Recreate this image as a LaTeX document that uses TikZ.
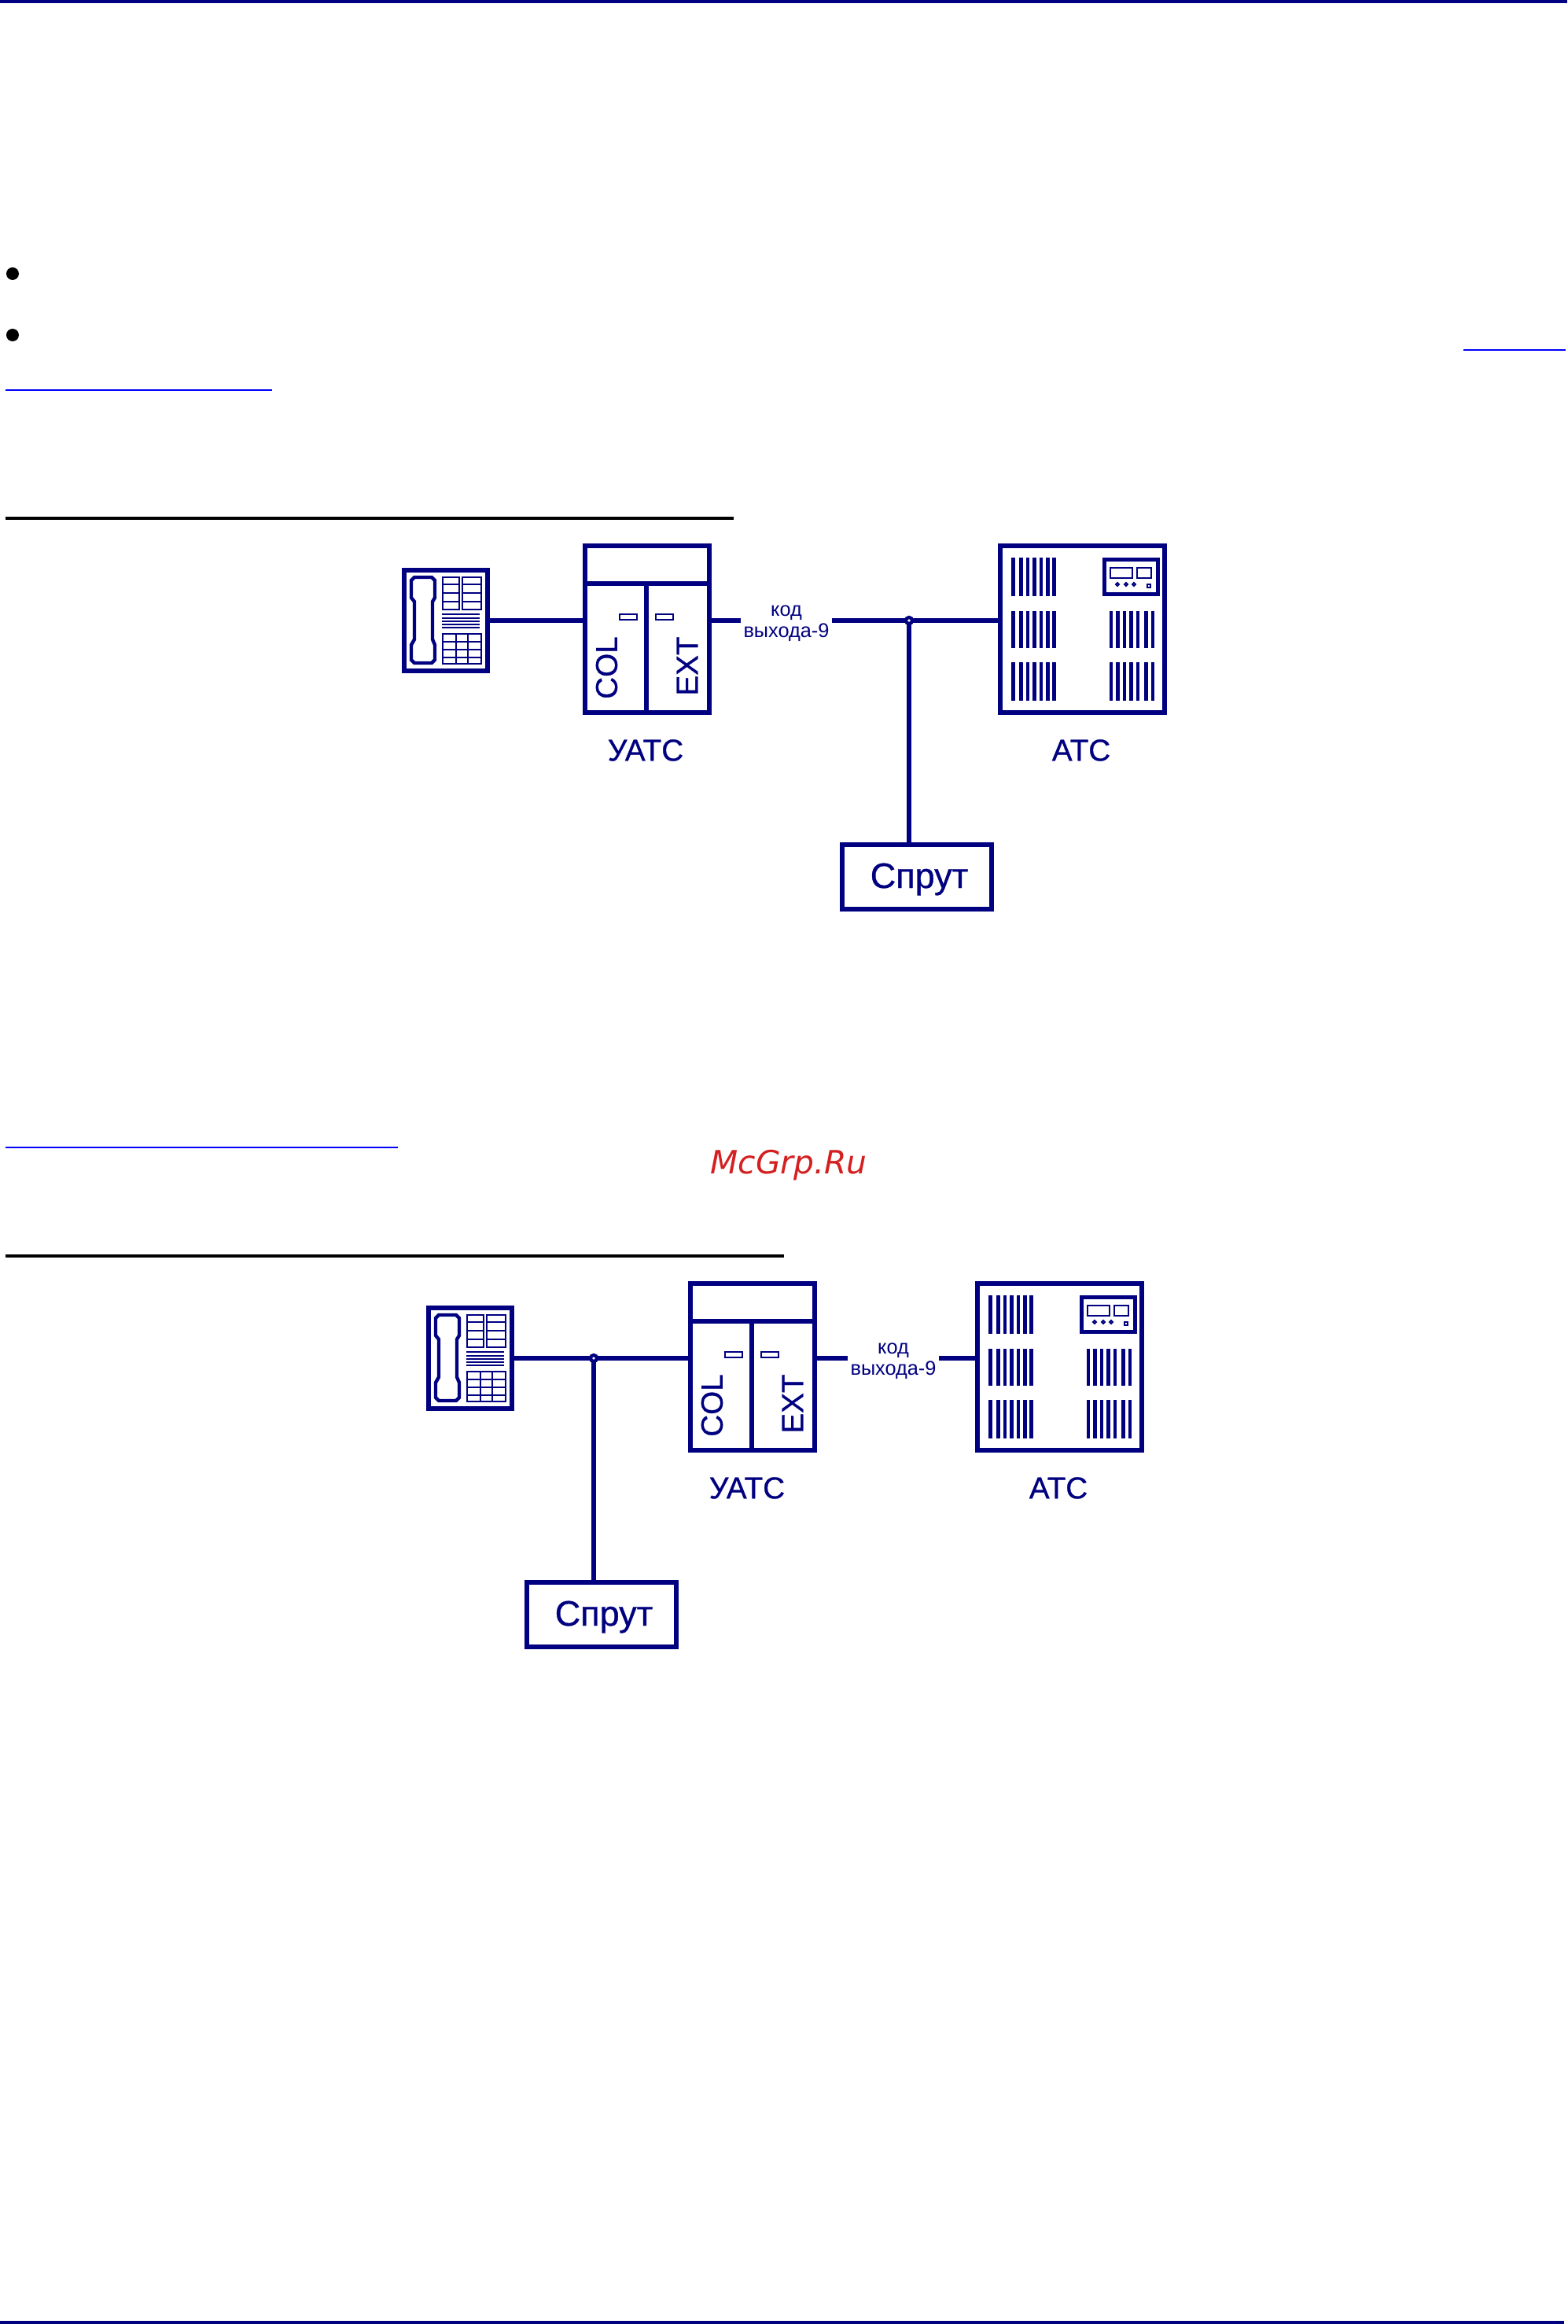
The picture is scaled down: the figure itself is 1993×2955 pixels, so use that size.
\documentclass[tikz,border=0pt]{standalone}
\usepackage{fontspec}
\setmainfont[BoldFont={Liberation Sans},BoldFeatures={FakeBold=0.7}]{Liberation Sans}
\newfontfamily\wmfont{DejaVu Sans}
\definecolor{navyline}{RGB}{0,0,128}
\definecolor{linkblue}{RGB}{0,0,255}
\definecolor{wmred}{RGB}{212,32,32}
\tikzset{
	wire/.style={draw=navyline, line width=1.7pt},
	barline/.style={draw=navyline, line width=1.4pt},
	thinline/.style={draw=navyline, line width=0.55pt},
	box/.style={wire, rectangle, inner sep=0pt, outer sep=0pt},
	joint/.style={circle, draw=navyline, fill=white, line width=1.2pt, inner sep=0pt, outer sep=0pt, minimum size=0.08cm},
	bigtext/.style={text=navyline, font=\bfseries\fontsize{11}{12}\selectfont},
	smalltext/.style={text=navyline, align=center, inner sep=0pt, minimum width=1.16cm, font=\fontsize{7.2}{7.7}\selectfont},
	linkrule/.style={draw=linkblue, line width=0.57pt},
	blackrule/.style={draw=black, line width=1.1pt},
	pics/phone/.style={code={
		\node [box, minimum width=1.06cm, minimum height=1.27cm] (-box) at (0, 0) {};
		\draw [wire, line width=1.25pt] (-40, -55) -- (-18, -55) -- (-14, -51) -- (-14, -29) -- (-17, -24) -- (-17, 24)
			-- (-14, 31) -- (-14, 50) -- (-18, 54) -- (-40, 54) -- (-44, 50) -- (-44, 31) -- (-40, 24) -- (-40, -24)
			-- (-44, -29) -- (-44, -51) -- cycle;
		% upper keys
		\draw [thinline] (-4, -55) rectangle (17, -14);
		\draw [thinline] (21, -55) rectangle (45, -14);
		\foreach \rowy in {-46, -35, -24}
			\draw [thinline] (-4, \rowy) -- (17, \rowy) (21, \rowy) -- (45, \rowy);
		\foreach \rowy in {-8, -3, 1, 5, 9}
			\draw [thinline] (-5, \rowy) -- (43, \rowy);
		% lower keys
		\draw [thinline] (-4, 17) rectangle (45, 55);
		\foreach \rowy in {27, 37, 47}
			\draw [thinline] (-4, \rowy) -- (45, \rowy);
		\draw [thinline] (13, 17) -- (13, 55);
		\draw [thinline] (28, 17) -- (28, 55);
	}},
	pics/uats/.style={code={
		\node [box, minimum width=1.58cm, minimum height=2.11cm] (-box) at (0, 0) {};
		\draw [wire] (-79, -58) -- (79, -58);
		\draw [wire] (-1, -58) -- (-1, 105.5);
		\draw [thinline] (-35, -19) rectangle (-13, -12);
		\draw [thinline] (11, -19) rectangle (33, -12);
		\node [bigtext, rotate=90] (-col) at (-51.5, 49) {COL};
		\node [bigtext, rotate=90] (-ext) at (51, 47) {EXT};
	}},
	pics/ats/.style={code={
		\node [box, minimum width=2.09cm, minimum height=2.11cm] (-box) at (0, 0) {};
		\foreach \barx in {-88, -78, -69.5, -61, -52.5, -44, -36} {
			\draw [barline] (\barx, -91) -- (\barx, -42);
			\draw [barline] (\barx, -23) -- (\barx, 24);
			\draw [barline] (\barx, 42) -- (\barx, 91);
		}
		\foreach \barx in {36.5, 45, 53.5, 62, 70.5, 81, 89.5} {
			\draw [barline] (\barx, -23) -- (\barx, 24);
			\draw [barline] (\barx, 42) -- (\barx, 91);
		}
		% panel
		\node [box, line width=1.4pt, minimum width=0.68cm, minimum height=0.44cm] (-panel) at (62, -66.5) {};
		\draw [thinline] (35.5, -78) rectangle (63.5, -65);
		\draw [thinline] (69.5, -78) rectangle (87.5, -65);
		\foreach \knobx in {44.5, 55.5, 65.5}
			\draw [thinline] (\knobx, -59) -- (\knobx + 2, -57) -- (\knobx, -55) -- (\knobx - 2, -57) -- cycle;
		\draw [thinline, line width=0.7pt] (82.5, -57) rectangle (86.5, -53);
	}},
}

\begin{document}
\begin{tikzpicture}[x=0.01cm, y=-0.01cm]

	\useasboundingbox (0, 0) rectangle (1993, 2955);
	\fill [white] (0, 0) rectangle (1993, 2955);

	% page rules and bullets
	\fill [navyline] (0, 0) rectangle (1993, 4);
	\fill [navyline] (0, 2951) rectangle (1989, 2955);
	\fill (16, 348) circle (8);
	\fill (16, 426) circle (8);
	\draw [linkrule] (1861, 445) -- (1991, 445);
	\draw [linkrule] (7, 496) -- (346, 496);
	\draw [blackrule] (7, 659) -- (933, 659);
	\draw [linkrule] (7, 1459) -- (506, 1459);
	\draw [blackrule] (7, 1597) -- (997, 1597);
	\node [text=wmred, inner sep=0pt, font=\wmfont\itshape\fontsize{11.6}{13}\selectfont] (mark) at (1003, 1482) {McGrp.Ru};

	% first scheme
	\pic (phone1) at (567, 789) {phone};
	\pic (uats1) at (823, 800) {uats};
	\pic (ats1) at (1376.5, 800) {ats};
	\node [bigtext] (uatslabel1) at (821, 954) {УАТС};
	\node [bigtext] (atslabel1) at (1375, 954) {АТС};
	\node [smalltext] (code1) at (1000, 793) {код\\выхода-9};
	\coordinate (codein1) at (942, 789);
	\coordinate (codeout1) at (1058, 789);
	\node [box, minimum width=1.89cm, minimum height=0.82cm] (sprut1) at (1166, 1115) {};
	\node [bigtext, font=\bfseries\fontsize{12.8}{14}\selectfont] (sprutlabel1) at (1169, 1118) {Спрут};

	\draw [wire] (phone1-box.east) -- (phone1-box.east -| uats1-box.west);
	\draw [wire] (codein1 -| uats1-box.east) -- (codein1);
	\draw [wire] (codeout1) -- (codeout1 -| ats1-box.west);
	\node [joint] (joint1) at (1156, 789) {};
	\draw [wire] (joint1.south) -- (joint1.south |- sprut1.north);

	% second scheme
	\pic (phone2) at (598, 1727) {phone};
	\pic (uats2) at (957, 1738) {uats};
	\pic (ats2) at (1347.5, 1738) {ats};
	\node [bigtext] (uatslabel2) at (950, 1892) {УАТС};
	\node [bigtext] (atslabel2) at (1346, 1892) {АТС};
	\node [smalltext] (code2) at (1136, 1731) {код\\выхода-9};
	\coordinate (codein2) at (1078, 1727);
	\coordinate (codeout2) at (1194, 1727);
	\node [box, minimum width=1.89cm, minimum height=0.82cm] (sprut2) at (765, 2053) {};
	\node [bigtext, font=\bfseries\fontsize{12.8}{14}\selectfont] (sprutlabel2) at (768, 2056) {Спрут};

	\draw [wire] (phone2-box.east) -- (phone2-box.east -| uats2-box.west);
	\draw [wire] (codein2 -| uats2-box.east) -- (codein2);
	\draw [wire] (codeout2) -- (codeout2 -| ats2-box.west);
	\node [joint] (joint2) at (755, 1727) {};
	\draw [wire] (joint2.south) -- (joint2.south |- sprut2.north);

\end{tikzpicture}
\end{document}
